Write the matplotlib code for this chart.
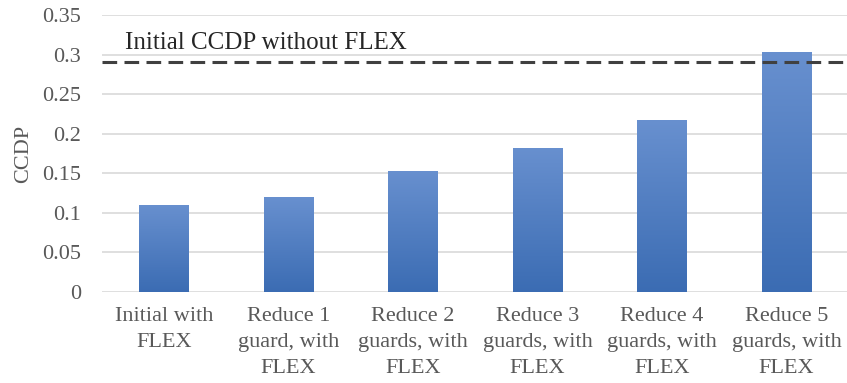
import numpy as np
import matplotlib
matplotlib.use('Agg')
import matplotlib.pyplot as plt
from matplotlib.colors import LinearSegmentedColormap

categories = ['Initial with\nFLEX', 'Reduce 1\nguard, with\nFLEX', 'Reduce 2\nguards, with\nFLEX',
              'Reduce 3\nguards, with\nFLEX', 'Reduce 4\nguards, with\nFLEX', 'Reduce 5\nguards, with\nFLEX']
ccdp = [0.110, 0.120, 0.153, 0.182, 0.217, 0.303]
baseline = 0.29
baseline_label = 'Initial CCDP without FLEX'
yticks = [0, 0.05, 0.1, 0.15, 0.2, 0.25, 0.3, 0.35]
ytick_labels = ['0', '0.05', '0.1', '0.15', '0.2', '0.25', '0.3', '0.35']

plt.rcParams['font.family'] = ['Liberation Serif', 'DejaVu Serif']

fig = plt.figure(figsize=(8.47, 3.83), dpi=100)
ax = fig.add_axes([0.12, 0.2376, 0.885, 0.7232])

x = np.arange(len(categories))
bars = ax.bar(x, ccdp, width=0.4, color='#4a7cc1', zorder=2)

# vertical gradient on each bar, lighter at top
cmap = LinearSegmentedColormap.from_list('bar', ['#3b6cb3', '#6890cf'])
grad = np.linspace(0, 1, 256).reshape(-1, 1)
for b in bars:
    x0, y0 = b.get_x(), b.get_y()
    w, h = b.get_width(), b.get_height()
    im = ax.imshow(grad, cmap=cmap, aspect='auto', origin='lower',
                   extent=[x0, x0 + w, y0, y0 + h], zorder=3)
    im.set_clip_path(b)

ax.axhline(baseline, color='#404040', lw=2.2, ls=(0, (4.8, 2.4)), zorder=4)
ax.text(0.031, 0.307, baseline_label, transform=ax.get_yaxis_transform(),
        fontsize=18, color='#262626', va='baseline', ha='left')

ax.set_xlim(-0.5, len(categories) - 0.48)
ax.set_ylim(0, 0.35)
ax.set_yticks(yticks)
ax.set_yticklabels(ytick_labels)
ax.set_xticks(x)
ax.set_xticklabels(categories, linespacing=1.5)
ax.tick_params(axis='both', length=0, labelsize=16, colors='#595959')
ax.tick_params(axis='y', pad=15)
ax.tick_params(axis='x', pad=11)
ax.yaxis.grid(True, color='#d9d9d9', lw=1.2, zorder=0)
for s in ax.spines.values():
    s.set_visible(False)
ax.set_ylabel('CCDP', fontsize=16, color='#595959', labelpad=6)

fig.savefig('out.png', dpi=100)
